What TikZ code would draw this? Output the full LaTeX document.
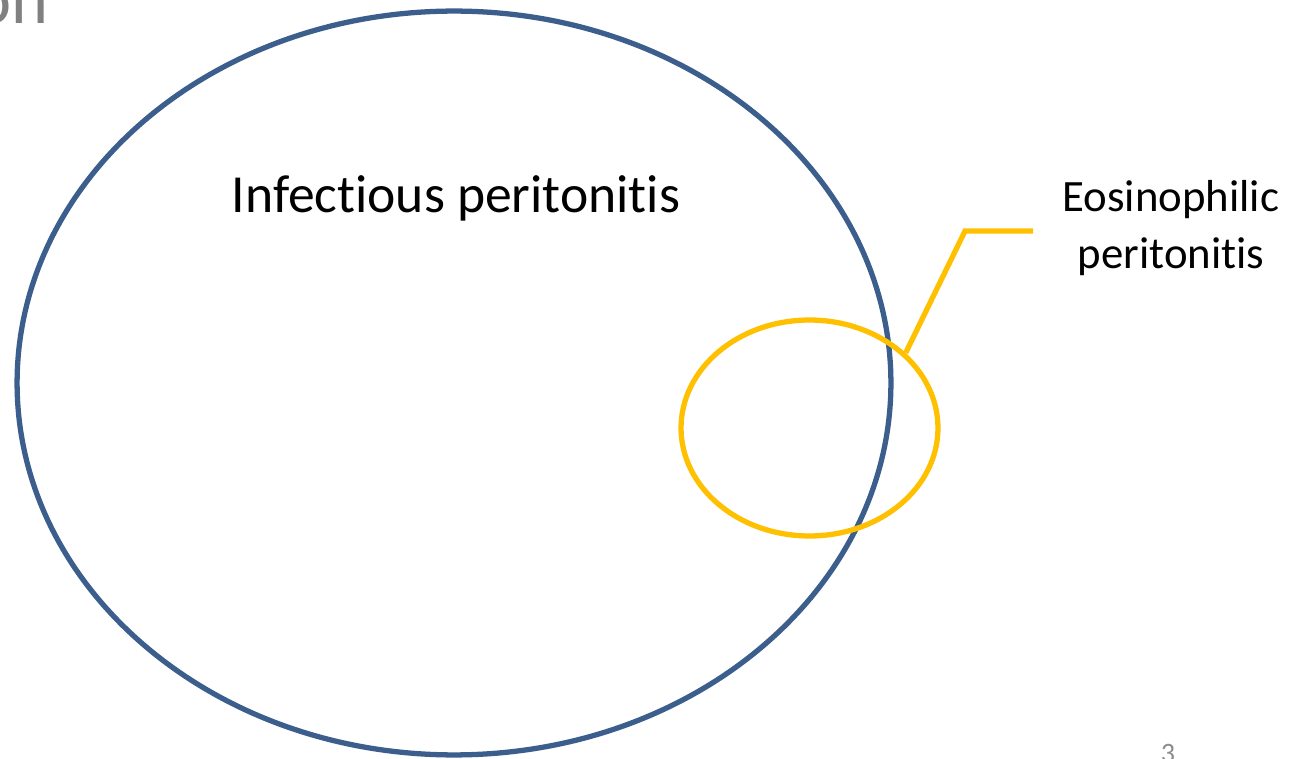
\documentclass[tikz,border=0pt]{standalone}
\usepackage{fontspec}
\setmainfont{Carlito}[Ligatures=NoCommon]
\usepackage{tikz}
\usetikzlibrary{shapes.geometric}
\definecolor{setblue}{HTML}{3B5E8C}
\definecolor{setgold}{HTML}{FFC000}
\definecolor{slidegray}{HTML}{808080}

\begin{document}
\begin{tikzpicture}[x=0.02cm, y=-0.02cm, line width=3pt,
        setring/.style={ellipse, draw, inner sep=0pt}]
        \clip (0,0) rectangle (1290,759);
        \fill[white] (0,0) rectangle (1290,759);

        \node[slidegray, anchor=base east, font=\fontsize{40}{48}\selectfont] (title) at (57,24) {on};
        \node[slidegray!90, anchor=base, font=\fontsize{16}{19}\selectfont] (pagenum) at (1168,762) {3};

        \node[setring, draw=setblue, minimum width=17.48cm, minimum height=14.88cm] (infect) at (454,383) {};
        \node[setring, draw=setgold, minimum width=5.14cm, minimum height=4.32cm] (eos) at (809.5,428) {};

        \node[anchor=base, font=\fontsize{30.5}{36}\selectfont] (infectlabel) at (456,213) {Infectious peritonitis};
        \node[anchor=base, align=center, font=\fontsize{25.5}{33}\selectfont] (eoslabel) at (1171,269) {Eosinophilic\\peritonitis};

        \coordinate (knee) at (965,231);
        \coordinate (tail) at (1033,231);
        \draw[setgold] (eos.38) -- (knee) -- (tail);
    \end{tikzpicture}
\end{document}
